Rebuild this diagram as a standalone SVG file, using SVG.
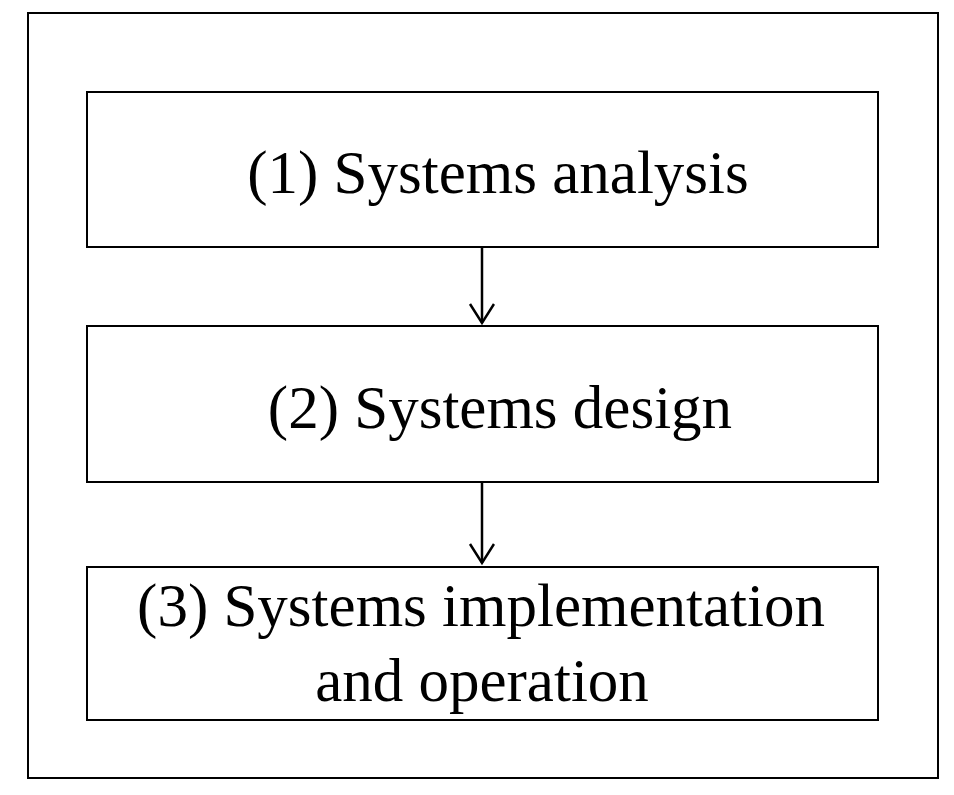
<svg xmlns="http://www.w3.org/2000/svg" width="954" height="795" viewBox="0 0 954 795">
<style>
.b{fill:#fff;stroke:#000;stroke-width:2}
.t{font-family:"Liberation Serif",serif;font-size:61px;fill:#000;text-anchor:middle}
.c{stroke:#000;stroke-width:2.5;fill:none}
</style>
<defs><marker id="a" markerWidth="30" markerHeight="30" refX="20" refY="13" orient="auto" markerUnits="userSpaceOnUse"><path d="M1,1 L20,13 L1,25" fill="none" stroke="#000" stroke-width="2.5"/></marker></defs>
<rect width="954" height="795" fill="#fff"/>
<rect x="28" y="13" width="910" height="765" class="b"/>
<g id="n1"><rect x="87" y="92" width="791" height="155" class="b"/><text class="t" x="498" y="193">(1) Systems analysis</text></g>
<g id="n2"><rect x="87" y="326" width="791" height="156" class="b"/><text class="t" x="500" y="428">(2) Systems design</text></g>
<g id="n3"><rect x="87" y="567" width="791" height="153" class="b"/><text class="t" x="481" y="626">(3) Systems implementation</text><text class="t" x="482" y="701">and operation</text></g>
<g id="connectors">
<line class="c" x1="482" y1="247" x2="482" y2="323" marker-end="url(#a)"/>
<line class="c" x1="482" y1="482" x2="482" y2="563" marker-end="url(#a)"/>
</g>
</svg>
